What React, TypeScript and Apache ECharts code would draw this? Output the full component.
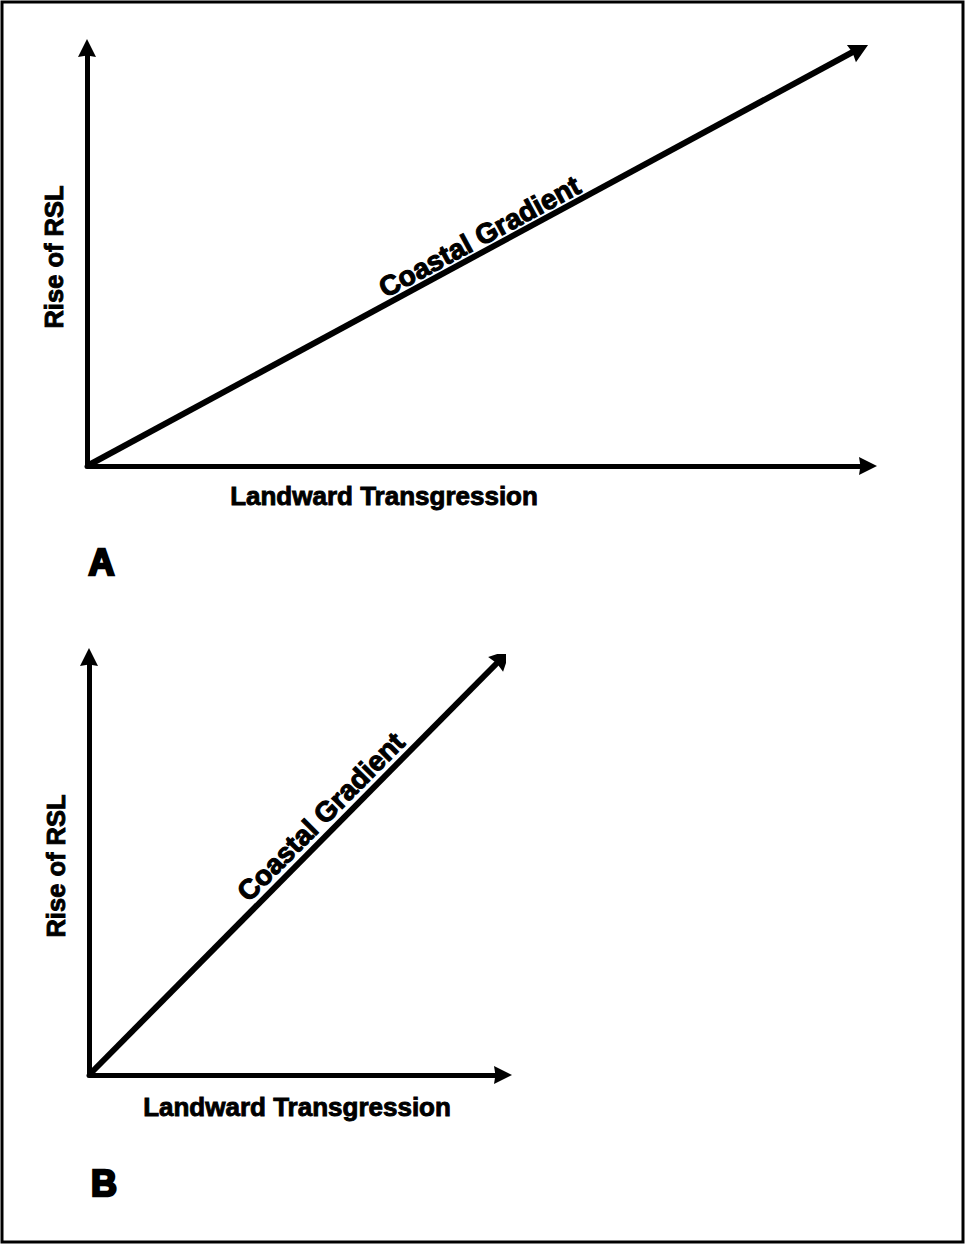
import React, { useEffect, useRef } from "react";
import * as echarts from "echarts";

// Panel A: gentle coastal gradient
const panelA = "A";
const xAxisNameA = "Landward Transgression";
const yAxisNameA = "Rise of RSL";
const xMaxA = 100;
const yMaxA = 100;
const gradientA: number[][] = [[0, 0], [99, 100]];

// Panel B: steep coastal gradient
const panelB = "B";
const xAxisNameB = "Landward Transgression";
const yAxisNameB = "Rise of RSL";
const xMaxB = 53;
const yMaxB = 100;
const gradientB: number[][] = [[0, 0], [53, 100]];

const lineLabel = "Coastal Gradient";

const FONT = "'Liberation Sans', Arial, Helvetica, sans-serif";
const HEAD = "path://M50,0 L100,100 L50,92 L0,100 Z";

function axisLine() {
  return {
    show: true,
    onZero: false,
    symbol: ["none", HEAD],
    symbolSize: [20, 18],
    lineStyle: { color: "#000", width: 5 },
  };
}

export default function App() {
  const ref = useRef<HTMLDivElement>(null);
  useEffect(() => {
    document.body.style.margin = "0";
    const chart = echarts.init(ref.current!, null, { renderer: "svg" });
    const xAx = (max: number, gi: number) => ({
      type: "value",
      gridIndex: gi,
      min: 0,
      max,
      axisLine: axisLine(),
      axisTick: { show: false },
      axisLabel: { show: false },
      splitLine: { show: false },
    });
    const yAx = (max: number, gi: number, name: string) => ({
      type: "value",
      gridIndex: gi,
      min: 0,
      max,
      name,
      nameLocation: "middle",
      nameRotate: 90,
      nameGap: 20,
      nameTextStyle: {
        fontFamily: FONT,
        fontSize: 25.5,
        fontWeight: "bold",
        color: "#000",
        textBorderColor: "#000",
        textBorderWidth: 0.9,
      },
      axisLine: axisLine(),
      axisTick: { show: false },
      axisLabel: { show: false },
      splitLine: { show: false },
    });
    const gradSeries = (coords: number[][], gi: number) => ({
      type: "lines",
      coordinateSystem: "cartesian2d",
      xAxisIndex: gi,
      yAxisIndex: gi,
      symbol: ["none", HEAD],
      symbolSize: [23, 21],
      lineStyle: { color: "#000", width: 6, opacity: 1, curveness: 0 },
      itemStyle: { color: "#000" },
      data: [{ coords }],
    });
    const txt = (x: number, y: number, s: string, size: number, bw: number, rot = 0) => ({
      type: "text",
      x,
      y,
      rotation: rot,
      style: {
        text: s,
        fontFamily: FONT,
        fontSize: size,
        fontWeight: "bold",
        fill: "#000",
        stroke: "#000",
        lineWidth: bw,
        align: "center",
        verticalAlign: "middle",
      },
    });
    const baseGraphic = [
      {
        type: "rect",
        shape: { x: 2, y: 2, width: 961, height: 1240 },
        style: { fill: "none", stroke: "#000", lineWidth: 3 },
      },
      txt(384, 496, xAxisNameA, 26, 0.9),
      txt(297, 1107, xAxisNameB, 26, 0.9),
      txt(101.5, 562, panelA, 36, 2.5),
      txt(104, 1183, panelB, 36, 2.5),
    ];
    chart.setOption({
      animation: false,
      backgroundColor: "#fff",
      grid: [
        { left: 87, top: 48, width: 781, height: 418 },
        { left: 89, top: 657, width: 414, height: 418 },
      ],
      xAxis: [xAx(xMaxA, 0), xAx(xMaxB, 1)],
      yAxis: [yAx(yMaxA, 0, yAxisNameA), yAx(yMaxB, 1, yAxisNameB)],
      series: [gradSeries(gradientA, 0), gradSeries(gradientB, 1)],
      graphic: baseGraphic,
    });
    // place the along-line labels using the chart's own scales
    const along = (coords: number[][], gi: number, f: number, perp: number) => {
      const p0 = chart.convertToPixel({ xAxisIndex: gi, yAxisIndex: gi }, coords[0]) as number[];
      const p1 = chart.convertToPixel({ xAxisIndex: gi, yAxisIndex: gi }, coords[1]) as number[];
      const a = Math.atan2(p0[1] - p1[1], p1[0] - p0[0]);
      const x = p0[0] + (p1[0] - p0[0]) * f - Math.sin(a) * perp;
      const y = p0[1] + (p1[1] - p0[1]) * f - Math.cos(a) * perp;
      return txt(x, y, lineLabel, 28, 1.1, a);
    };
    chart.setOption({
      graphic: [
        ...baseGraphic,
        along(gradientA, 0, 0.517, 15),
        along(gradientB, 1, 0.589, 17),
      ],
    });
    return () => chart.dispose();
  }, []);
  return <div ref={ref} style={{ width: 967, height: 1247 }} />;
}
